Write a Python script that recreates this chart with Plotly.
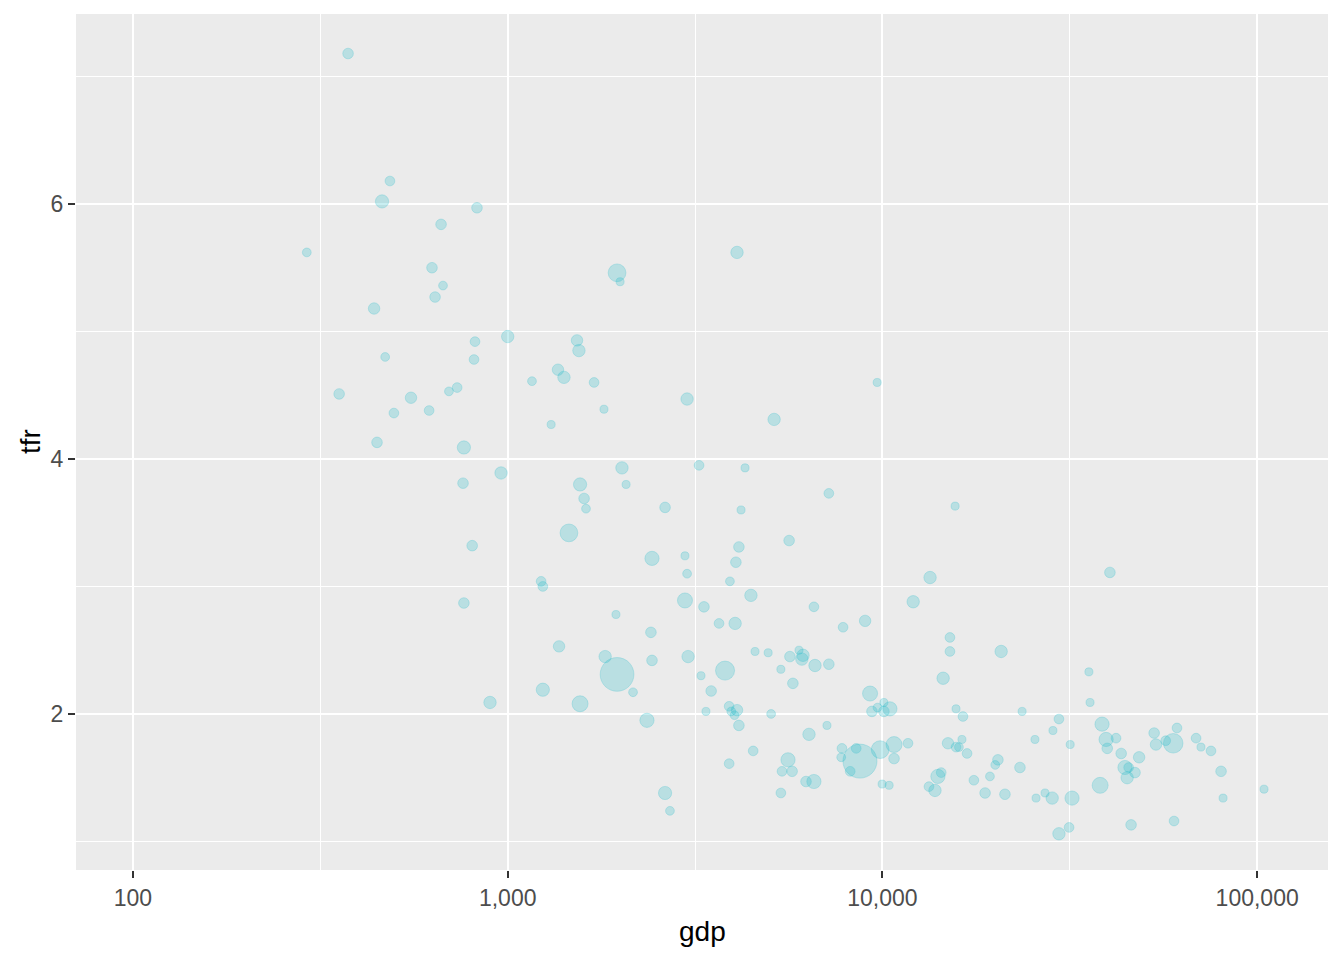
import numpy as np
import plotly.graph_objects as go

# GDP per capita (log axis), total fertility rate, population (millions)
gdp = [375, 291, 485, 462, 828, 664, 628, 672, 640, 440,
       818, 471, 813, 355, 552, 733, 697, 497, 617, 448,
       764, 1000, 1161, 1306, 960, 760, 804, 1228, 1241, 764,
       1371, 1241, 897, 4092, 1958, 1995, 1531, 1549, 1362, 1413,
       1700, 1807, 3011, 5140, 2018, 3241, 4299, 1560, 2070, 1599,
       1618, 2630, 1457, 2427, 2972, 3011, 4195, 5636, 4140, 4064,
       3918, 2972, 4457, 3340, 6564, 1945, 3664, 4045, 2411, 4571,
       4955, 5664, 5989, 6138, 6095, 6607, 1820, 2427, 3030, 3802,
       1958, 2160, 1560, 2353, 2630, 2710, 3280, 3491, 3381, 3899,
       4093, 3950, 4030, 4140, 5046, 5358, 5768, 6368, 4519, 3899,
       5598, 5395, 5741, 6252, 6564, 5358, 9683, 7194, 15630, 13400,
       12080, 7852, 8990, 15140, 15140, 20740, 7194, 9268, 9376, 9700,
       10090, 10090, 10470, 14520, 15720, 16400, 23590, 29580, 28510, 31700,
       25530, 7112, 7798, 7762, 8511, 8710, 8202, 9862, 10740, 10740,
       11700, 9980, 10420, 14960, 15720, 16300, 16000, 16820, 14060, 14350,
       13310, 13810, 17540, 19360, 18790, 21230, 20330, 20000, 23280, 25700,
       27160, 28380, 32060, 29580, 31480, 40460, 35560, 35810, 38550, 39520,
       42010, 39800, 43360, 48410, 44380, 45400, 47210, 44980, 53090, 53700,
       57000, 59700, 61100, 68700, 70800, 75300, 80100, 81100, 104300, 38100,
       46080, 60000]

tfr = [7.18, 5.62, 6.18, 6.02, 5.97, 5.84, 5.50, 5.36, 5.27, 5.18,
       4.92, 4.80, 4.78, 4.51, 4.48, 4.56, 4.53, 4.36, 4.38, 4.13,
       4.09, 4.96, 4.61, 4.27, 3.89, 3.81, 3.32, 3.04, 3.00, 2.87,
       2.53, 2.19, 2.09, 5.62, 5.46, 5.39, 4.93, 4.85, 4.70, 4.64,
       4.60, 4.39, 4.47, 4.31, 3.93, 3.95, 3.93, 3.80, 3.80, 3.69,
       3.61, 3.62, 3.42, 3.22, 3.24, 3.10, 3.60, 3.36, 3.31, 3.19,
       3.04, 2.89, 2.93, 2.84, 2.84, 2.78, 2.71, 2.71, 2.64, 2.49,
       2.48, 2.45, 2.50, 2.46, 2.43, 2.38, 2.45, 2.42, 2.45, 2.34,
       2.31, 2.17, 2.08, 1.95, 1.38, 1.24, 2.30, 2.18, 2.02, 2.06,
       2.03, 2.02, 1.99, 1.91, 2.00, 2.35, 2.24, 1.84, 1.71, 1.61,
       1.64, 1.55, 1.55, 1.47, 1.47, 1.38, 4.60, 3.73, 3.63, 3.07,
       2.88, 2.68, 2.73, 2.60, 2.49, 2.49, 2.39, 2.16, 2.02, 2.05,
       2.09, 2.02, 2.04, 2.28, 2.04, 1.98, 2.02, 1.96, 1.87, 1.76,
       1.80, 1.91, 1.73, 1.66, 1.73, 1.63, 1.55, 1.72, 1.76, 1.65,
       1.77, 1.45, 1.44, 1.77, 1.74, 1.80, 1.74, 1.69, 1.51, 1.54,
       1.43, 1.40, 1.48, 1.51, 1.38, 1.37, 1.64, 1.60, 1.58, 1.34,
       1.38, 1.34, 1.34, 1.06, 1.11, 3.11, 2.33, 2.09, 1.92, 1.80,
       1.81, 1.73, 1.69, 1.66, 1.58, 1.58, 1.54, 1.50, 1.85, 1.76,
       1.79, 1.77, 1.89, 1.81, 1.74, 1.71, 1.55, 1.34, 1.41, 1.44,
       1.13, 1.16]

pop = [25, 6, 14, 75, 25, 25, 25, 6, 25, 38,
       14, 6, 14, 25, 38, 14, 6, 14, 14, 25,
       75, 56, 6, 2, 56, 25, 25, 14, 14, 25,
       38, 75, 56, 56, 224, 2, 38, 56, 38, 56,
       14, 2, 56, 56, 56, 14, 2, 75, 2, 25,
       6, 25, 224, 100, 2, 6, 2, 25, 25, 25,
       6, 125, 56, 25, 14, 2, 14, 56, 25, 2,
       2, 25, 2, 56, 56, 56, 56, 25, 56, 280,
       1380, 6, 155, 100, 75, 6, 2, 25, 2, 14,
       38, 6, 6, 25, 6, 2, 25, 56, 14, 14,
       100, 14, 25, 25, 100, 14, 2, 14, 2, 56,
       56, 14, 38, 14, 14, 56, 25, 125, 25, 6,
       2, 25, 100, 56, 2, 14, 2, 14, 2, 2,
       2, 2, 14, 6, 14, 1410, 14, 224, 155, 25,
       14, 2, 2, 38, 14, 2, 6, 14, 100, 14,
       14, 56, 14, 6, 25, 25, 25, 6, 25, 2,
       2, 56, 100, 56, 14, 25, 2, 2, 100, 100,
       14, 25, 25, 38, 100, 14, 25, 56, 25, 38,
       14, 305, 14, 14, 2, 14, 25, 2, 2, 155,
       25, 14]

x_tick_vals = [100, 1000, 10000, 100000]
x_tick_text = ["100", "1,000", "10,000", "100,000"]
y_tick_vals = [2, 4, 6]

# area-style size scale (like ggplot scale_size, range 1..6)
pop_arr = np.array(pop, dtype=float)
diam = 2 * (3.5 + 13.5 * np.sqrt(pop_arr / pop_arr.max()))

fig = go.Figure()
fig.add_trace(go.Scatter(
    x=gdp, y=tfr, mode="markers",
    marker=dict(size=diam, sizemode="diameter",
                color="rgba(40,188,203,0.36)",
                line=dict(color="rgba(40,188,203,0.36)", width=1)),
    showlegend=False, hoverinfo="x+y"))

# page body has an 8px margin; target panel at x 76..1328, y 14..870 in the window
OFF = 8
W, H = 1344 - OFF, 960 - OFF
PL, PR, PT, PB = 76 - OFF, 1328 - OFF, 14 - OFF, 870 - OFF
font_family = "Liberation Sans, Arial, sans-serif"

fig.update_layout(
    width=W, height=H,
    margin=dict(l=PL, r=W - PR, t=PT, b=H - PB, pad=0),
    paper_bgcolor="white", plot_bgcolor="#EBEBEB",
    font=dict(family=font_family, color="#4D4D4D"),
    xaxis=dict(type="log", range=[1.848, 5.189], tickvals=x_tick_vals, ticktext=x_tick_text,
               ticks="outside", ticklen=7, tickwidth=2, tickcolor="#333333",
               showgrid=True, gridcolor="white", gridwidth=2, zeroline=False, showline=False,
               tickfont=dict(size=23, color="#4D4D4D", family=font_family),
               minor=dict(tickmode="array", tickvals=[10**1.5, 10**2.5, 10**3.5, 10**4.5],
                          showgrid=True, gridcolor="white", gridwidth=1, ticks=""),
               fixedrange=True, automargin=False),
    yaxis=dict(range=[0.776, 7.49], tickvals=y_tick_vals,
               ticks="outside", ticklen=7, tickwidth=2, tickcolor="#333333",
               showgrid=True, gridcolor="white", gridwidth=2, zeroline=False, showline=False,
               tickfont=dict(size=23, color="#4D4D4D", family=font_family),
               minor=dict(tickmode="array", tickvals=[1, 3, 5, 7],
                          showgrid=True, gridcolor="white", gridwidth=1, ticks=""),
               fixedrange=True, automargin=False),
    annotations=[
        dict(text="gdp", xref="paper", yref="paper", x=0.5, y=0, yanchor="middle",
             xanchor="center", yshift=-61, showarrow=False,
             font=dict(size=28, color="black", family=font_family)),
        dict(text="tfr", xref="paper", yref="paper", x=0, y=0.5, xanchor="center",
             yanchor="middle", xshift=-46, textangle=-90, showarrow=False,
             font=dict(size=28, color="black", family=font_family)),
    ],
)

fig.write_html("out.html")
